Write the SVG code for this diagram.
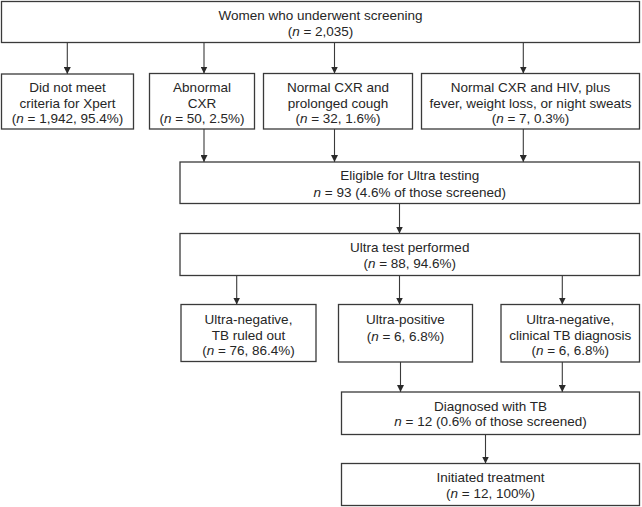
<svg xmlns="http://www.w3.org/2000/svg" width="642" height="507" viewBox="0 0 642 507">
<defs>
<style>
.box{fill:#fff;stroke:#3a3a3a;stroke-width:1.3}
.t{font-family:"Liberation Sans",Arial,sans-serif;font-size:13.5px;fill:#262626;text-anchor:middle}
.i{font-style:italic}
.c line{stroke:#3a3a3a;stroke-width:1.1;marker-end:url(#ah)}
</style>
<marker id="ah" viewBox="0 0 7 7" refX="7" refY="3.5" markerWidth="7" markerHeight="7" orient="auto" markerUnits="userSpaceOnUse">
<path d="M0,0 L7,3.5 L0,7 z" fill="#2a2a2a"/>
</marker>
</defs>
<rect width="642" height="507" fill="#fff"/>
<g class="c" id="connectors">
<line x1="67.3" y1="42.5" x2="67.3" y2="74"/>
<line x1="204" y1="42.5" x2="204" y2="73.5"/>
<line x1="334.5" y1="42.5" x2="334.5" y2="73.5"/>
<line x1="523.3" y1="42.5" x2="523.3" y2="73.5"/>
<line x1="204" y1="129" x2="204" y2="162"/>
<line x1="334.5" y1="129" x2="334.5" y2="162"/>
<line x1="523.3" y1="129" x2="523.3" y2="162"/>
<line x1="399.5" y1="203.5" x2="399.5" y2="233.5"/>
<line x1="236.7" y1="275.5" x2="236.7" y2="304.5"/>
<line x1="399.5" y1="275.5" x2="399.5" y2="304.5"/>
<line x1="562.3" y1="275.5" x2="562.3" y2="304.5"/>
<line x1="400.5" y1="362" x2="400.5" y2="392"/>
<line x1="562.3" y1="362" x2="562.3" y2="392"/>
<line x1="485.5" y1="434.5" x2="485.5" y2="463.5"/>
</g>
<g id="screened">
<rect class="box" x="1.5" y="1.5" width="638" height="41"/>
<text class="t" x="320.5" y="19.5">Women who underwent screening</text>
<text class="t" x="320.5" y="36">(<tspan class="i">n</tspan> = 2,035)</text>
</g>
<g id="notmeet">
<rect class="box" x="1.5" y="74" width="132" height="55"/>
<text class="t" x="67.5" y="92">Did not meet</text>
<text class="t" x="67.5" y="107.5">criteria for Xpert</text>
<text class="t" x="67.5" y="123">(<tspan class="i">n</tspan> = 1,942, 95.4%)</text>
</g>
<g id="abnormal">
<rect class="box" x="149.5" y="73.5" width="105" height="55.5"/>
<text class="t" x="202" y="92">Abnormal</text>
<text class="t" x="202" y="107.5">CXR</text>
<text class="t" x="202" y="123">(<tspan class="i">n</tspan> = 50, 2.5%)</text>
</g>
<g id="cough">
<rect class="box" x="263.5" y="73.5" width="149" height="55.5"/>
<text class="t" x="338" y="92">Normal CXR and</text>
<text class="t" x="338" y="107.5">prolonged cough</text>
<text class="t" x="338" y="123">(<tspan class="i">n</tspan> = 32, 1.6%)</text>
</g>
<g id="hiv">
<rect class="box" x="421.5" y="73.5" width="218" height="55.5"/>
<text class="t" x="530.5" y="92">Normal CXR and HIV, plus</text>
<text class="t" x="530.5" y="107.5">fever, weight loss, or night sweats</text>
<text class="t" x="530.5" y="123">(<tspan class="i">n</tspan> = 7, 0.3%)</text>
</g>
<g id="eligible">
<rect class="box" x="180" y="162" width="459.5" height="41.5"/>
<text class="t" x="409.75" y="180">Eligible for Ultra testing</text>
<text class="t" x="409.75" y="196.5"><tspan class="i">n</tspan> = 93 (4.6% of those screened)</text>
</g>
<g id="ultra">
<rect class="box" x="180" y="233.5" width="459.5" height="42"/>
<text class="t" x="409.75" y="252">Ultra test performed</text>
<text class="t" x="409.75" y="268">(<tspan class="i">n</tspan> = 88, 94.6%)</text>
</g>
<g id="ruledout">
<rect class="box" x="181" y="304.5" width="135" height="57"/>
<text class="t" x="248.5" y="324">Ultra-negative,</text>
<text class="t" x="248.5" y="339.5">TB ruled out</text>
<text class="t" x="248.5" y="355">(<tspan class="i">n</tspan> = 76, 86.4%)</text>
</g>
<g id="positive">
<rect class="box" x="338.5" y="304.5" width="134" height="57.5"/>
<text class="t" x="405.5" y="324">Ultra-positive</text>
<text class="t" x="405.5" y="340.5">(<tspan class="i">n</tspan> = 6, 6.8%)</text>
</g>
<g id="clinical">
<rect class="box" x="501" y="304.5" width="138.5" height="57.5"/>
<text class="t" x="570.25" y="324">Ultra-negative,</text>
<text class="t" x="570.25" y="339.5">clinical TB diagnosis</text>
<text class="t" x="570.25" y="355">(<tspan class="i">n</tspan> = 6, 6.8%)</text>
</g>
<g id="diagnosed">
<rect class="box" x="341.5" y="392" width="298" height="42.5"/>
<text class="t" x="490.5" y="411">Diagnosed with TB</text>
<text class="t" x="490.5" y="425.5"><tspan class="i">n</tspan> = 12 (0.6% of those screened)</text>
</g>
<g id="treatment">
<rect class="box" x="341.5" y="463.5" width="298" height="42"/>
<text class="t" x="490.5" y="482">Initiated treatment</text>
<text class="t" x="490.5" y="497.5">(<tspan class="i">n</tspan> = 12, 100%)</text>
</g>
</svg>
